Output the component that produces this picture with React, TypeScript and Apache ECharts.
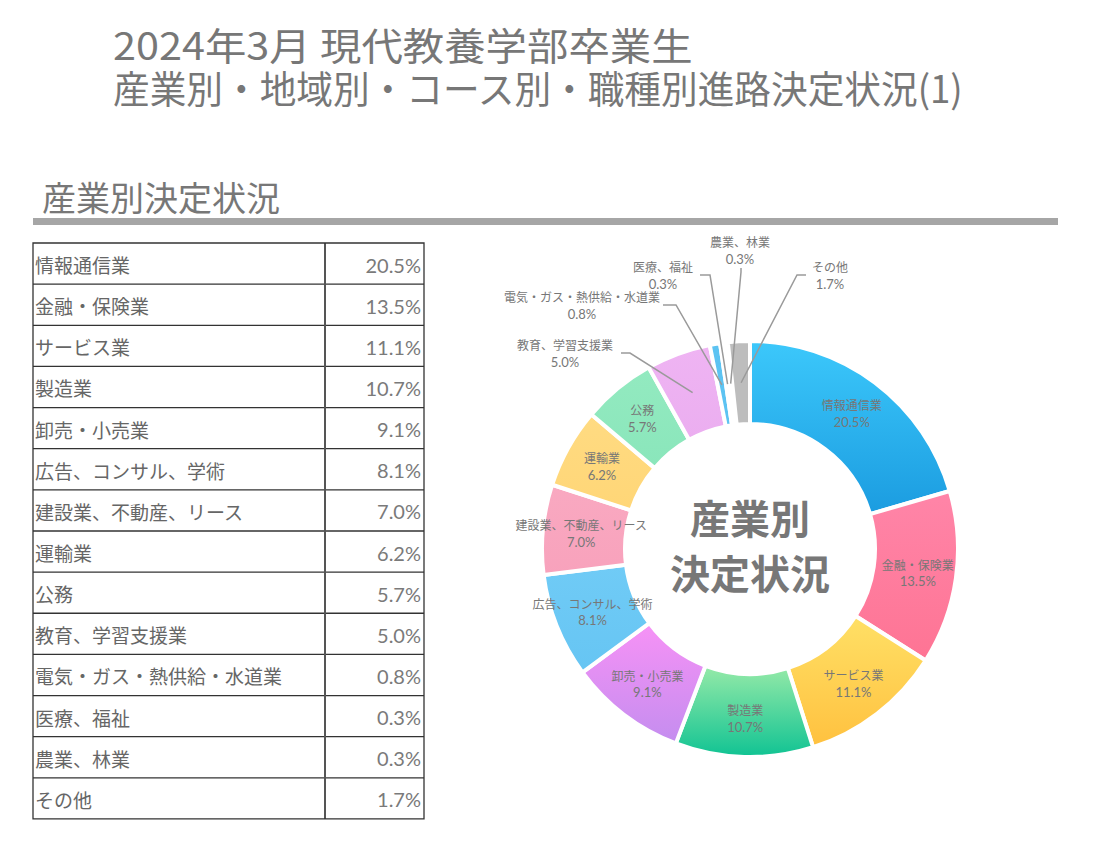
import React, { useEffect, useRef } from 'react';
import * as echarts from 'echarts';

// ---- data ----
const categories = [
  '情報通信業',
  '金融・保険業',
  'サービス業',
  '製造業',
  '卸売・小売業',
  '広告、コンサル、学術',
  '建設業、不動産、リース',
  '運輸業',
  '公務',
  '教育、学習支援業',
  '電気・ガス・熱供給・水道業',
  '医療、福祉',
  '農業、林業',
  'その他',
];
const shares = [20.5, 13.5, 11.1, 10.7, 9.1, 8.1, 7.0, 6.2, 5.7, 5.0, 0.8, 0.3, 0.3, 1.7];
const titleLines = ['2024年3月 現代教養学部卒業生', '産業別・地域別・コース別・職種別進路決定状況(1)'];
const sectionTitle = '産業別決定状況';
const centerLines = ['産業別', '決定状況'];

// ---- styles / layout ----
const sliceColors: [string, string][] = [
  ['#3cc8fb', '#1b9ce0'],
  ['#ff85a8', '#fe7494'],
  ['#ffe066', '#ffc13f'],
  ['#96eaa8', '#10c393'],
  ['#f792f6', '#c48def'],
  ['#70cbf6', '#66c5f3'],
  ['#f9a9c1', '#f8a2bc'],
  ['#ffdb82', '#ffd677'],
  ['#93eac0', '#8ae6bb'],
  ['#efb4f3', '#ebaef0'],
  ['#5cc3f2', '#5cc3f2'],
  ['#f3f3f3', '#f3f3f3'],
  ['#f7f7f7', '#f7f7f7'],
  ['#bdbdbd', '#bdbdbd'],
];
const CX = 750;
const CY = 549;
const R0 = 125;
const R1 = 208;
const MID_R = (R0 + R1) / 2;

// outside label spots for the small slices (layout only)
const outsideSpots: Record<string, { x: number; y: number; knee: number[]; anchor: number[] }> = {
  '教育、学習支援業': { x: 565, y: 353, knee: [630, 353], anchor: [621, 353] },
  '電気・ガス・熱供給・水道業': { x: 582, y: 305, knee: [676, 305], anchor: [663, 305] },
  '医療、福祉': { x: 663, y: 275, knee: [710, 275], anchor: [700, 275] },
  '農業、林業': { x: 740, y: 250, knee: [741, 272], anchor: [741, 268] },
  'その他': { x: 830, y: 275, knee: [797, 275], anchor: [806, 275] },
};

const JP = '"Noto Sans CJK JP", "Noto Sans", sans-serif';
const NUM = 'Lato, "Noto Sans", sans-serif';
const TEXT_GRAY = '#777777';

const TABLE_X = 33;
const TABLE_Y = 243;
const TABLE_W = 391;
const ROW_H = 41.14;
const COL_X = 325;

function fmt(v: number) {
  return v.toFixed(1) + '%';
}

// point at mid-angle of slice i (start at 12 o'clock, clockwise), radius r
function slicePoint(i: number, r: number) {
  const total = shares.reduce((a, b) => a + b, 0);
  let cum = 0;
  for (let k = 0; k < i; k++) cum += shares[k];
  const mid = cum + shares[i] / 2;
  const th = (mid / total) * Math.PI * 2;
  return [CX + r * Math.sin(th), CY - r * Math.cos(th)];
}

const labelRich = {
  n: { fontSize: 12, fontFamily: JP, color: TEXT_GRAY, lineHeight: 17, align: 'center' },
  p: { fontSize: 13, fontFamily: NUM, color: TEXT_GRAY, lineHeight: 17, align: 'center' },
};
const labelFormatter = (p: any) => `{n|${p.name}}\n{p|${fmt(p.value)}}`;

export default function App() {
  const ref = useRef<HTMLDivElement>(null);

  useEffect(() => {
    if (!ref.current) return;
    const chart = echarts.init(ref.current, undefined, { renderer: 'svg' });

    const graphics: any[] = [];
    // titles
    graphics.push({
      type: 'text',
      x: 113,
      y: 43,
      scaleX: 1.09,
      style: { text: titleLines[0], fontSize: 38, fontFamily: JP, fill: TEXT_GRAY, textVerticalAlign: 'middle' },
    });
    graphics.push({
      type: 'text',
      x: 113,
      y: 87,
      scaleX: 0.965,
      style: { text: titleLines[1], fontSize: 38, fontFamily: JP, fill: TEXT_GRAY, textVerticalAlign: 'middle' },
    });
    graphics.push({
      type: 'text',
      x: 42,
      y: 196,
      style: { text: sectionTitle, fontSize: 34, fontFamily: JP, fill: TEXT_GRAY, textVerticalAlign: 'middle' },
    });
    graphics.push({
      type: 'rect',
      shape: { x: 33, y: 218, width: 1025, height: 7 },
      style: { fill: '#a6a6a6' },
    });

    // table
    const nRows = categories.length;
    const tableH = ROW_H * nRows;
    for (let i = 1; i < nRows; i++) {
      const y = TABLE_Y + ROW_H * i;
      graphics.push({
        type: 'line',
        shape: { x1: TABLE_X, y1: y, x2: TABLE_X + TABLE_W, y2: y },
        style: { stroke: '#333', lineWidth: 1.3 },
      });
    }
    graphics.push({
      type: 'line',
      shape: { x1: COL_X, y1: TABLE_Y, x2: COL_X, y2: TABLE_Y + tableH },
      style: { stroke: '#555', lineWidth: 2 },
    });
    graphics.push({
      type: 'rect',
      shape: { x: TABLE_X, y: TABLE_Y, width: TABLE_W, height: tableH },
      style: { fill: 'none', stroke: '#333', lineWidth: 1.3 },
    });
    categories.forEach((c, i) => {
      const yc = TABLE_Y + ROW_H * (i + 0.5) + 1;
      graphics.push({
        type: 'text',
        x: TABLE_X + 2,
        y: yc,
        style: { text: c, fontSize: 19, fontFamily: JP, fill: '#666', textVerticalAlign: 'middle' },
      });
      graphics.push({
        type: 'text',
        x: TABLE_X + TABLE_W - 3,
        y: yc,
        style: {
          text: fmt(shares[i]),
          fontSize: 20,
          fontFamily: NUM,
          fill: '#7a7a7a',
          textAlign: 'right',
          textVerticalAlign: 'middle',
        },
      });
    });

    // center text
    graphics.push({
      type: 'text',
      x: CX,
      y: 517,
      z: 10,
      style: {
        text: centerLines[0],
        fontSize: 40,
        fontWeight: 'bold',
        fontFamily: JP,
        fill: '#777',
        textAlign: 'center',
        textVerticalAlign: 'middle',
      },
    });
    graphics.push({
      type: 'text',
      x: CX,
      y: 572,
      z: 10,
      style: {
        text: centerLines[1],
        fontSize: 40,
        fontWeight: 'bold',
        fontFamily: JP,
        fill: '#777',
        textAlign: 'center',
        textVerticalAlign: 'middle',
      },
    });

    // main ring: coloured slices, inside labels
    const ringData = categories.map((name, i) => {
      const [c1, c2] = sliceColors[i];
      const item: any = {
        name,
        value: shares[i],
        itemStyle: {
          color: new echarts.graphic.LinearGradient(0, 0, 0, 1, [
            { offset: 0, color: c1 },
            { offset: 1, color: c2 },
          ]),
        },
      };
      if (outsideSpots[name]) item.label = { show: false };
      return item;
    });

    // overlay ring (transparent): callout labels + leader lines above the slices
    const calloutData = categories.map((name, i) => {
      const item: any = { name, value: shares[i] };
      if (outsideSpots[name]) {
        item.label = { show: true };
        item.labelLine = { show: true };
      }
      return item;
    });

    const option: any = {
      animation: false,
      graphic: graphics,
      series: [
        {
          type: 'pie',
          z: 2,
          center: [CX, CY],
          radius: [R0, R1],
          startAngle: 90,
          clockwise: true,
          avoidLabelOverlap: false,
          itemStyle: { borderColor: '#ffffff', borderWidth: 4 },
          label: {
            show: true,
            position: 'inside',
            formatter: labelFormatter,
            rich: labelRich,
          },
          labelLine: { show: false },
          emphasis: { disabled: true },
          data: ringData,
        },
        {
          type: 'pie',
          z: 4,
          silent: true,
          center: [CX, CY],
          radius: [R0, R1],
          startAngle: 90,
          clockwise: true,
          avoidLabelOverlap: false,
          itemStyle: { color: 'rgba(0,0,0,0)', borderWidth: 0 },
          label: {
            show: false,
            position: 'outside',
            opacity: 1,
            formatter: labelFormatter,
            rich: labelRich,
          },
          labelLine: { show: false, lineStyle: { color: '#9a9a9a', width: 1.5, opacity: 1 } },
          emphasis: { disabled: true },
          labelLayout: (params: any) => {
            const name = categories[params.dataIndex];
            const spot = outsideSpots[name];
            if (!spot) return {};
            const p0 = slicePoint(params.dataIndex, MID_R);
            return {
              x: spot.x,
              y: spot.y,
              align: 'center',
              verticalAlign: 'middle',
              labelLinePoints: [p0, spot.knee, spot.anchor],
            };
          },
          data: calloutData,
        },
      ],
    };
    chart.setOption(option);
    return () => chart.dispose();
  }, []);

  return (
    <div
      ref={ref}
      style={{ position: 'absolute', left: 0, top: 0, width: 1095, height: 847, background: '#fff' }}
    />
  );
}
